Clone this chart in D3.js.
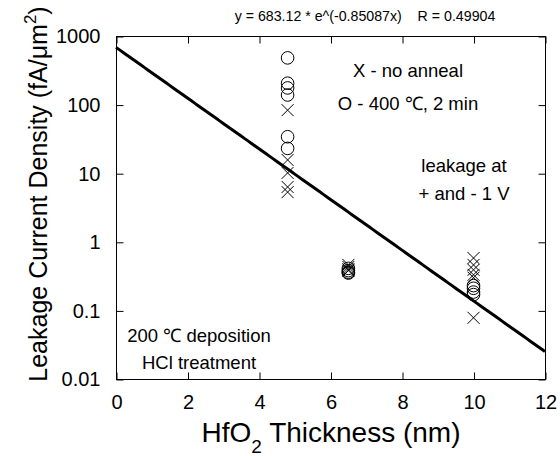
<!DOCTYPE html>
<html><head><meta charset="utf-8">
<script src="https://cdn.jsdelivr.net/npm/d3@7"></script>
<style>body{margin:0;background:#fff}svg{display:block}text{font-family:"Liberation Sans",Arial,Helvetica,sans-serif;fill:#000}</style>
</head><body>
<script>
// Data
const xTicks = [0, 2, 4, 6, 8, 10, 12];
const yTicks = [0.01, 0.1, 1, 10, 100, 1000];
const yTickLabels = ["0.01", "0.1", "1", "10", "100", "1000"];
const noAnnealX = [4.8, 4.8, 4.8, 4.8, 4.8, 6.5, 6.5, 6.5, 6.5, 10, 10, 10, 10, 10, 10];
const noAnnealY = [83, 15.6, 10.1, 6.3, 5.3, 0.46, 0.43, 0.40, 0.38, 0.58, 0.46, 0.39, 0.33, 0.30, 0.078];
const annealX = [4.8, 4.8, 4.8, 4.8, 4.8, 4.8, 6.5, 6.5, 6.5, 6.5, 10, 10, 10, 10];
const annealY = [480, 205, 175, 138, 34, 23, 0.41, 0.38, 0.36, 0.35, 0.23, 0.21, 0.185, 0.17];
const fitA = 683.12, fitB = -0.85087;

const W = 560, H = 456;
const svg = d3.select("body").append("svg").attr("width", W).attr("height", H);
const L = 116, R = 545, T = 36, B = 379;
const x = d3.scaleLinear().domain([0, 12]).range([L, R]);
const y = d3.scaleLog().domain([0.01, 1000]).range([B, T]);

// frame
svg.append("rect").attr("x", L + 0.5).attr("y", T + 0.5).attr("width", R - L).attr("height", B - T)
  .attr("fill", "none").attr("stroke", "#000").attr("stroke-width", 1);

// axes (inward ticks)
const tickLen = 7;
const gB = svg.append("g").attr("transform", `translate(0.5,${B + 0.5})`)
  .call(d3.axisBottom(x).tickValues(xTicks).tickSize(-tickLen).tickPadding(15).tickFormat(d3.format("d")));
const gT = svg.append("g").attr("transform", `translate(0.5,${T + 0.5})`)
  .call(d3.axisTop(x).tickValues(xTicks).tickSize(-tickLen).tickFormat(""));
const gL = svg.append("g").attr("transform", `translate(${L + 0.5},0.5)`)
  .call(d3.axisLeft(y).tickValues(yTicks).tickSize(-tickLen).tickPadding(16).tickFormat((d, i) => yTickLabels[i]));
const gR = svg.append("g").attr("transform", `translate(${R + 0.5},0.5)`)
  .call(d3.axisRight(y).tickValues(yTicks).tickSize(-tickLen).tickFormat(""));
[gB, gT, gL, gR].forEach(g => {
  g.select(".domain").remove();
  g.selectAll("line").attr("stroke", "#000");
  g.selectAll("text").attr("font-size", 20).attr("font-family", "Liberation Sans, Arial, sans-serif");
});
gB.selectAll("text").attr("dy", "0.71em");

// fit line
const fitLine = d3.line().x(d => x(d)).y(d => y(fitA * Math.exp(fitB * d)));
const fitPts = d3.range(0, 12.001, 0.1);
svg.append("path").attr("d", fitLine(fitPts)).attr("fill", "none").attr("stroke", "#000").attr("stroke-width", 3);

// markers
const cr = 6.3;
svg.append("g").selectAll("circle").data(annealY).join("circle")
  .attr("cx", (d, i) => x(annealX[i])).attr("cy", d => y(d)).attr("r", cr)
  .attr("fill", "none").attr("stroke", "#000").attr("stroke-width", 1);
const s = 6;
svg.append("g").selectAll("path").data(noAnnealY).join("path")
  .attr("d", (d, i) => {
    const cx = x(noAnnealX[i]), cy = y(d);
    return `M${cx - s},${cy - s}L${cx + s},${cy + s}M${cx - s},${cy + s}L${cx + s},${cy - s}`;
  }).attr("fill", "none").attr("stroke", "#000").attr("stroke-width", 1);

// title
svg.append("text").attr("x", 365).attr("y", 21).attr("text-anchor", "middle").attr("font-size", 14.2)
  .attr("xml:space", "preserve").text("y = 683.12 * e^(-0.85087x)    R = 0.49904");

// annotations
const ann = [
  ["X - no anneal", 408, 77],
  ["O - 400 \u2103, 2 min", 408, 110],
  ["leakage at", 464, 172],
  ["+ and - 1 V", 464, 200],
  ["200 \u2103 deposition", 199, 342],
  ["HCl treatment", 199, 369]
];
svg.append("g").selectAll("text").data(ann).join("text")
  .attr("x", d => d[1]).attr("y", d => d[2]).attr("text-anchor", "middle").attr("font-size", 18.5).text(d => d[0]);

// x label
const xl = svg.append("text").attr("x", 331).attr("y", 442).attr("text-anchor", "middle").attr("font-size", 28);
xl.append("tspan").text("HfO");
xl.append("tspan").attr("font-size", 19).attr("dy", 11).text("2");
xl.append("tspan").attr("dy", -11).text(" Thickness (nm)");

// y label
const yl = svg.append("text").attr("transform", "translate(47,194) rotate(-90)").attr("text-anchor", "middle").attr("font-size", 25);
yl.append("tspan").text("Leakage Current Density (fA/\u03bcm");
yl.append("tspan").attr("font-size", 17).attr("dy", -11).text("2");
yl.append("tspan").attr("dy", 11).text(")");
</script>
</body></html>
